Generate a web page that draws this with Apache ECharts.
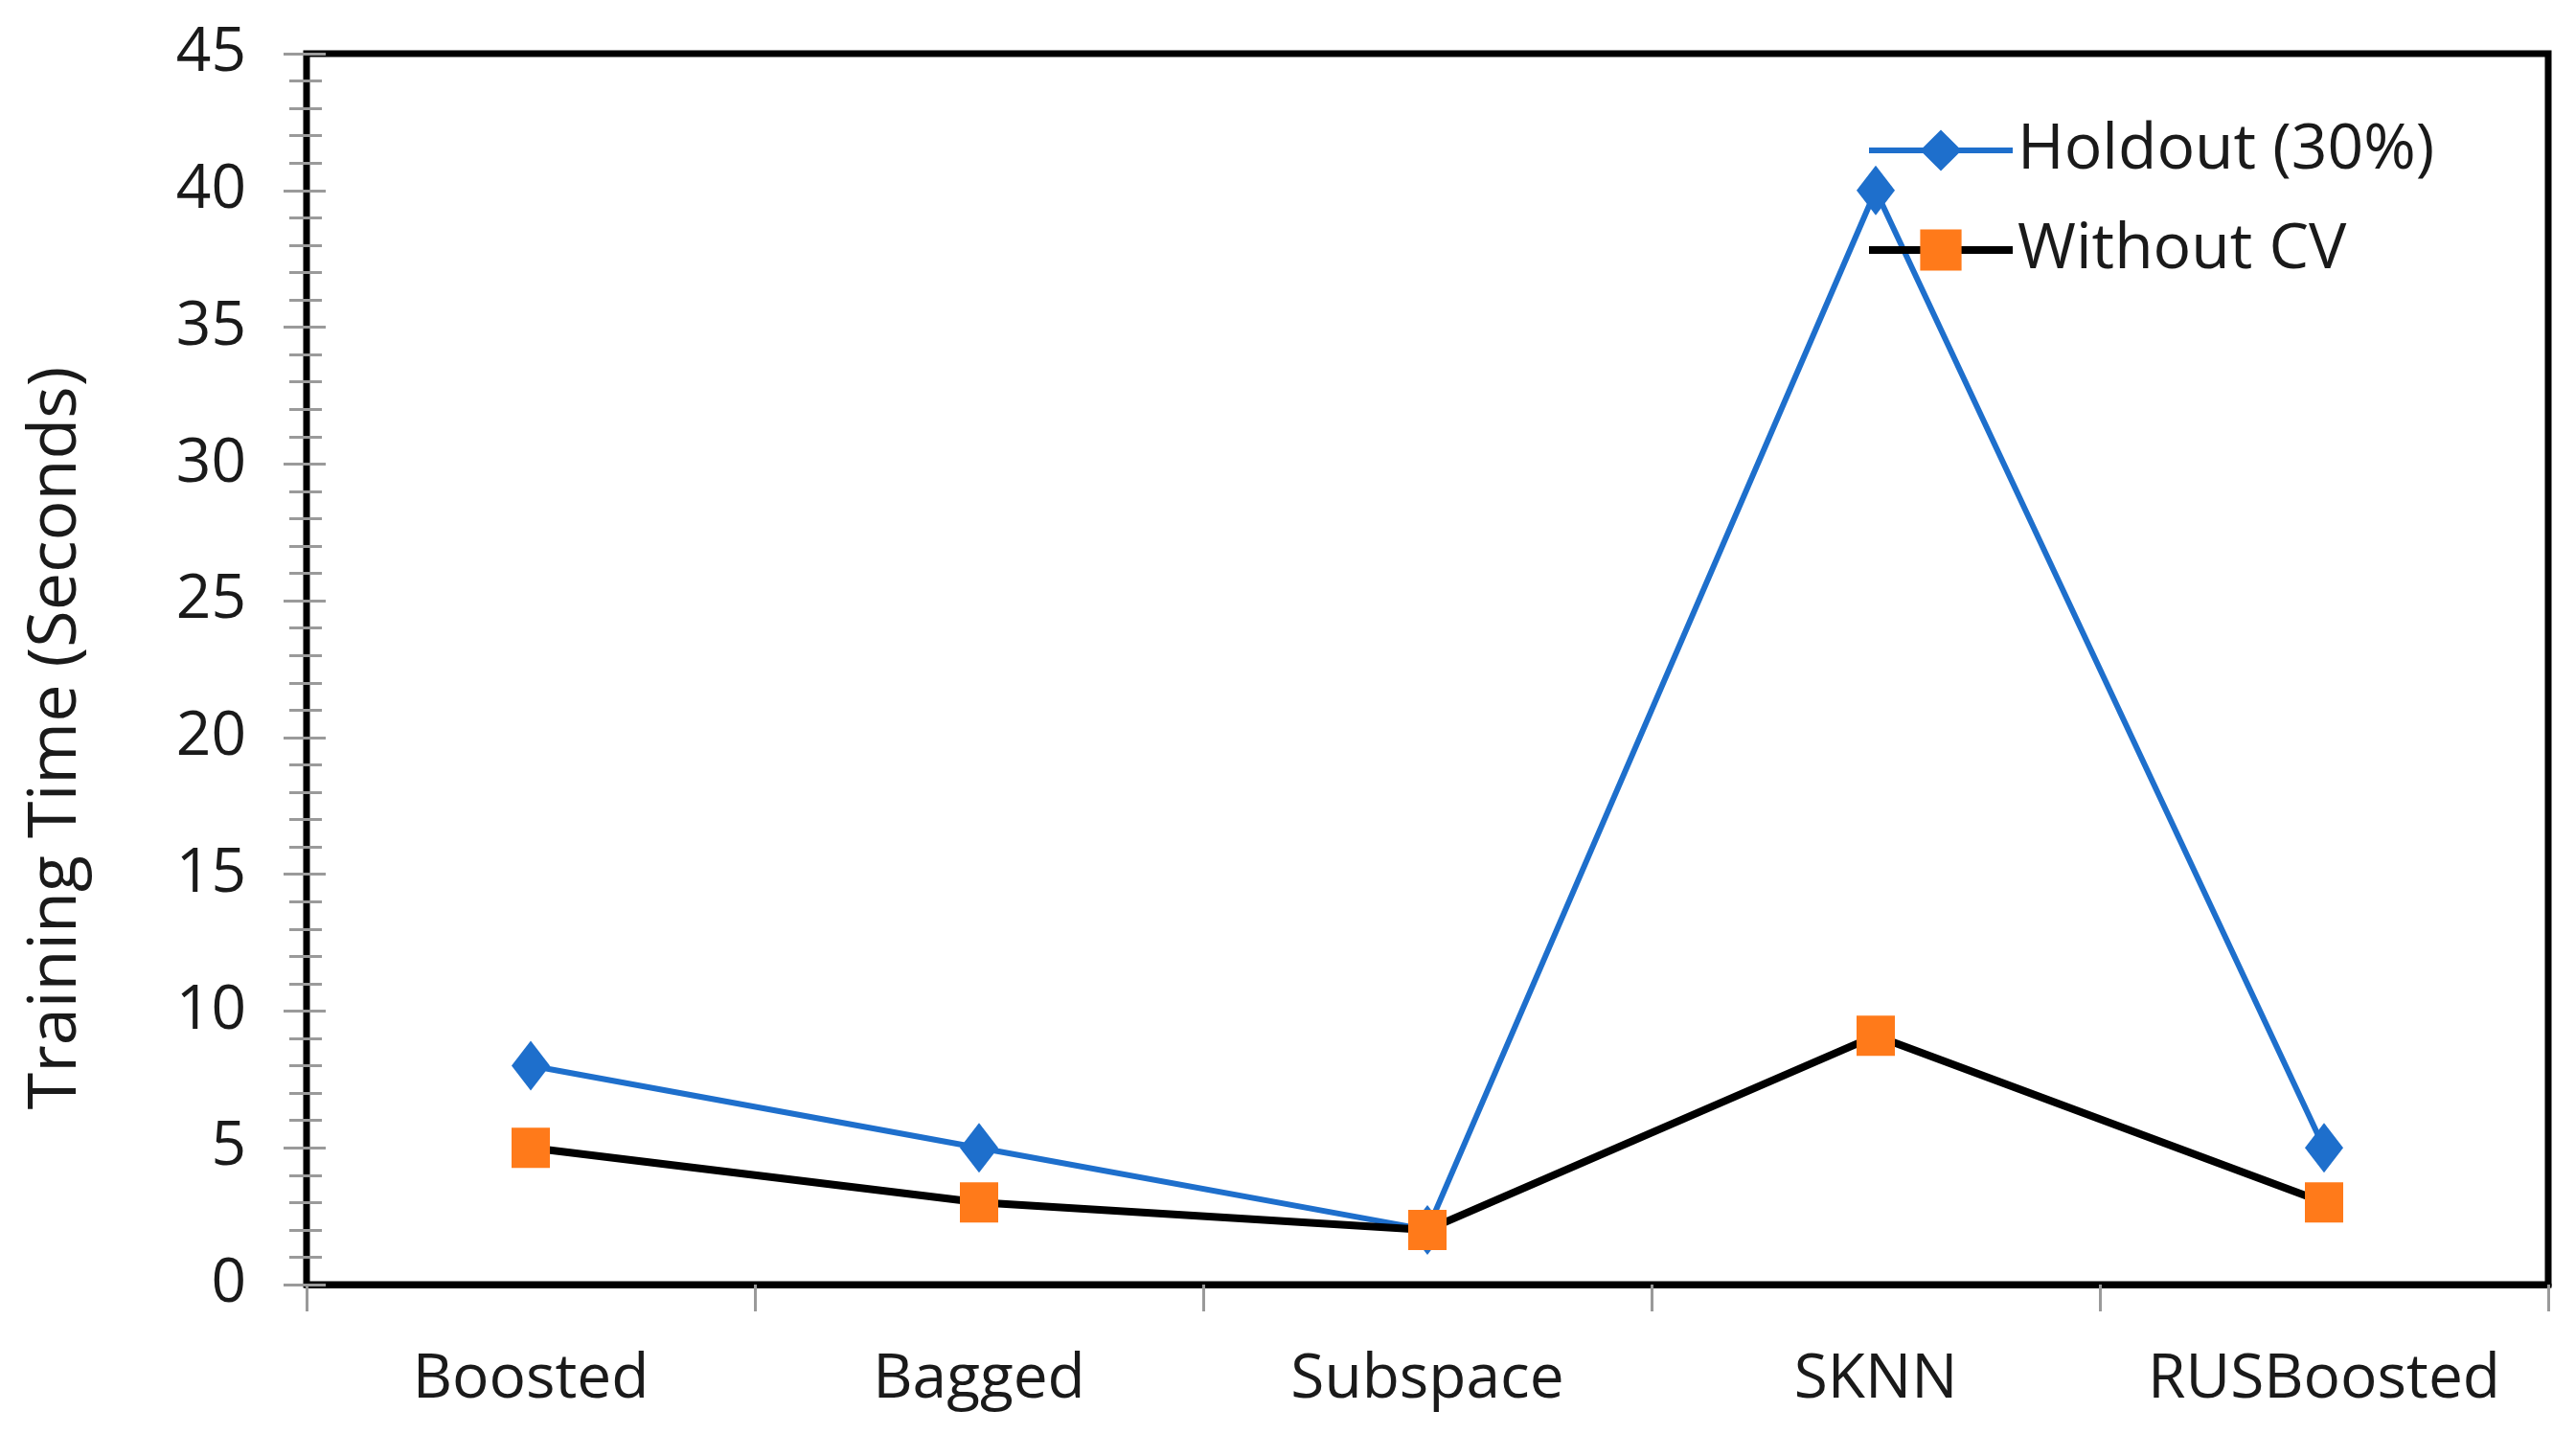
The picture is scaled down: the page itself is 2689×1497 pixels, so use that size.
<!DOCTYPE html>
<html>
<head>
<meta charset="utf-8">
<script src="https://cdn.jsdelivr.net/npm/echarts@6/dist/echarts.min.js"></script>
<style>
html,body{margin:0;padding:0;background:#fff;}
#chart{width:2689px;height:1497px;}
</style>
</head>
<body>
<div id="chart"></div>
<script>
const categories = ['Boosted', 'Bagged', 'Subspace', 'SKNN', 'RUSBoosted'];
const holdout = [8, 5, 2, 40, 5];
const withoutCV = [5, 3, 2, 9.1, 3];
const seriesNames = ['Holdout (30%)', 'Without CV'];

const FONT = '"Open Sans", "Noto Sans", sans-serif';
const TEXT = '#1a1a1a';
const TICK = '#9a9a9a';
const BLUE = '#1E6FCC';
const ORANGE = '#FF7A1A';

const chart = echarts.init(document.getElementById('chart'), null, {renderer: 'canvas', devicePixelRatio: 1});
chart.setOption({
  animation: false,
  backgroundColor: '#fff',
  textStyle: {fontFamily: FONT},
  grid: {left: 320, right: 29, top: 56, bottom: 156, show: true, borderColor: '#000', borderWidth: 7, backgroundColor: 'transparent'},
  legend: {
    orient: 'vertical', left: 1947, top: 124, padding: 0,
    itemWidth: 150, itemHeight: 54, itemGap: 38,
    textStyle: {fontSize: 66, color: TEXT, fontFamily: FONT},
    data: [
      {name: seriesNames[0], itemStyle: {color: BLUE}, lineStyle: {color: BLUE, width: 6}},
      {name: seriesNames[1], itemStyle: {color: ORANGE}, lineStyle: {color: '#000', width: 8}}
    ]
  },
  xAxis: {
    type: 'category', data: categories, boundaryGap: true,
    axisLine: {show: true, lineStyle: {color: '#000', width: 7}},
    axisTick: {show: true, interval: 0, length: 28, lineStyle: {color: TICK, width: 3}},
    axisLabel: {interval: 0, fontSize: 64, color: TEXT, margin: 68, fontFamily: FONT},
    splitLine: {show: false}
  },
  yAxis: [{
    type: 'value', min: 0, max: 45, interval: 5, position: 'left',
    name: 'Training Time (Seconds)', nameLocation: 'middle', nameGap: 226,
    nameTextStyle: {fontSize: 70, color: TEXT, fontFamily: FONT, padding: [0, 144, 0, 0]},
    axisLine: {show: true, onZero: false, lineStyle: {color: '#000', width: 6}},
    axisTick: {show: true, inside: false, length: 24, lineStyle: {color: TICK, width: 3}},
    minorTick: {show: true, splitNumber: 5, length: 18, lineStyle: {color: TICK, width: 3}},
    axisLabel: {fontSize: 64, color: TEXT, margin: 63, fontFamily: FONT},
    splitLine: {show: false}, minorSplitLine: {show: false}
  }, {
    type: 'value', min: 0, max: 45, interval: 5, position: 'left', offset: 0,
    axisLine: {show: false},
    axisTick: {show: true, inside: true, length: 20, lineStyle: {color: TICK, width: 3}},
    minorTick: {show: true, splitNumber: 5, length: 16, lineStyle: {color: TICK, width: 3}},
    axisLabel: {show: false},
    splitLine: {show: false}, minorSplitLine: {show: false}
  }],
  series: [{
    name: seriesNames[0], type: 'line', data: holdout,
    symbol: 'diamond', symbolSize: [40, 52],
    lineStyle: {color: BLUE, width: 6},
    itemStyle: {color: BLUE},
    z: 3
  }, {
    name: seriesNames[1], type: 'line', data: withoutCV,
    symbol: 'rect', symbolSize: [40, 42],
    lineStyle: {color: '#000', width: 8},
    itemStyle: {color: ORANGE},
    z: 4
  }]
});
</script>
</body>
</html>
